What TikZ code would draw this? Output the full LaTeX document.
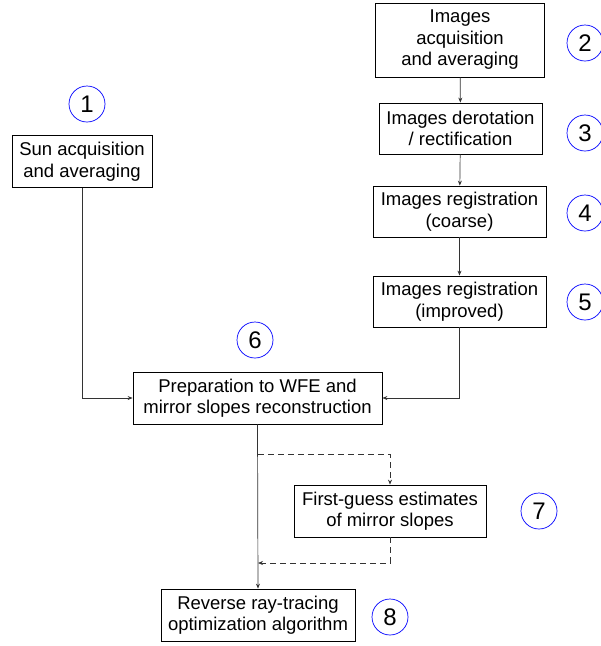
\documentclass[tikz,border=0pt]{standalone}
\usepackage{fontspec}
\setmainfont{Liberation Sans}
\usetikzlibrary{arrows.meta}
\tikzset{>={Stealth[length=5pt,width=4pt]}}
\tikzset{
  stepbox/.style={draw,line width=0.8pt,align=center,inner sep=0pt,
    font=\fontsize{18.5}{21.5}\selectfont},
  stepnum/.style={draw=blue,circle,line width=0.7pt,minimum size=36pt,inner sep=0pt,
    font=\fontsize{24}{24}\selectfont},
  flow/.style={->,line width=0.7pt,draw=black!80},
  optional/.style={dash pattern=on 6pt off 4pt}
}
\begin{document}
\begin{tikzpicture}[x=1pt,y=-1pt]
    \useasboundingbox (0,0) rectangle (601,646);
    % boxes
    \node[stepbox,minimum width=140pt,minimum height=52pt] (sun) at (82,161.5) {Sun acquisition\\and averaging};
    \node[stepbox,minimum width=169pt,minimum height=74pt] (acq) at (460,40) {Images\\acquisition\\and averaging};
    \node[stepbox,minimum width=163pt,minimum height=51pt] (derot) at (460.5,128.5) {Images derotation\\/ rectification};
    \node[stepbox,minimum width=173pt,minimum height=51pt] (coarse) at (459.5,211.5) {Images registration\\(coarse)};
    \node[stepbox,minimum width=173pt,minimum height=51pt] (improved) at (459.5,301.5) {Images registration\\(improved)};
    \node[stepbox,minimum width=249pt,minimum height=52pt] (prep) at (257.5,398) {Preparation to WFE and\\mirror slopes reconstruction};
    \node[stepbox,minimum width=192pt,minimum height=52pt] (guess) at (390,511) {First-guess estimates\\of mirror slopes};
    \node[stepbox,minimum width=194pt,minimum height=52pt] (rrt) at (258,615) {Reverse ray-tracing\\optimization algorithm};
    % numbers
    \node[stepnum] (n1) at (87,104) {1};
    \node[stepnum] (n2) at (585,43) {2};
    \node[stepnum] (n3) at (585,133) {3};
    \node[stepnum] (n4) at (585,213) {4};
    \node[stepnum] (n5) at (585,302) {5};
    \node[stepnum] (n6) at (255,340) {6};
    \node[stepnum] (n7) at (539,511) {7};
    \node[stepnum] (n8) at (390,617) {8};
    % connectors
    \draw[flow] (acq) -- (derot);
    \draw[flow] (derot) -- (coarse);
    \draw[flow] (coarse) -- (improved);
    \draw[flow] (sun.south) |- (prep.west);
    \draw[flow] (improved.south) |- (prep.east);
    \draw[flow] (prep.south) -- (rrt.north);
    \coordinate (split) at (258,454);
    \coordinate (join) at (258,563);
    \draw[flow,optional] (split) -| (guess.north);
    \draw[flow,optional] (guess.south) |- (join);
\end{tikzpicture}
\end{document}
